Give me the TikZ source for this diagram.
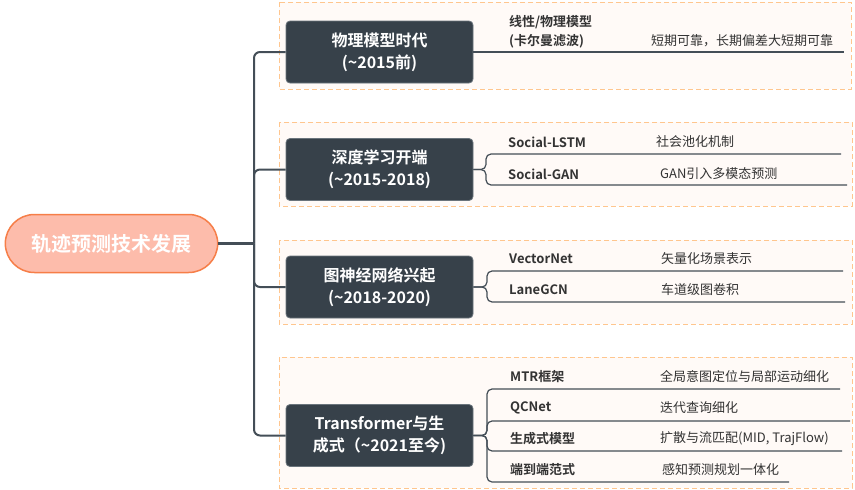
\documentclass[tikz,border=0pt]{standalone}
\usepackage{fontspec}
\setmainfont{Noto Sans CJK SC}[BoldFont={Noto Sans CJK SC Bold}]
\usetikzlibrary{shapes.misc}
\definecolor{darkbox}{HTML}{37414A}
\definecolor{darkedge}{HTML}{6A747C}
\definecolor{linec}{HTML}{444E57}
\definecolor{rootfill}{HTML}{FDBCAB}
\definecolor{rootdraw}{HTML}{F67E48}
\definecolor{dashc}{HTML}{FFC68E}
\definecolor{dashfill}{HTML}{FFFAF7}
\definecolor{txt}{HTML}{333333}
\tikzset{
  rootnode/.style={rounded rectangle, fill=rootfill, draw=rootdraw, line width=1.5pt,
    minimum width=219pt, minimum height=58pt, text=white,
    font=\bfseries\fontsize{20}{24}\selectfont},
  era/.style={rectangle, rounded corners=4pt, fill=darkbox, draw=darkedge, line width=0.8pt,
    minimum width=187pt, minimum height=62pt, text=white, align=center,
    font=\bfseries\fontsize{16}{22}\selectfont},
  framebox/.style={draw=dashc, fill=dashfill, dashed, dash pattern=on 5pt off 3pt, line width=1pt},
  trunk/.style={draw=linec, line width=2pt, rounded corners=6pt},
  childline/.style={draw=linec, line width=1.2pt, rounded corners=5pt},
  lbl/.style={anchor=west, inner sep=0pt, text=txt, align=left,
    font=\bfseries\fontsize{13}{19}\selectfont},
  desc/.style={anchor=west, inner sep=0pt, text=txt, font=\fontsize{13}{16}\selectfont},
}
\begin{document}
\begin{tikzpicture}[x=1pt,y=-1pt]
\useasboundingbox (0,0) rectangle (855,490);
% frames
\path[framebox] (279,2) rectangle (851,89);
\path[framebox] (279,122) rectangle (852,206);
\path[framebox] (279,240) rectangle (852,324);
\path[framebox] (279,357) rectangle (852,488);

% root
\node[rootnode] (root) at (111.5,243.5) {轨迹预测技术发展};

% era boxes
\node[era] (b1) at (379.5,52) {物理模型时代\\(\textasciitilde2015前)};
\node[era] (b2) at (379.5,169.5) {深度学习开端\\(\textasciitilde2015-2018)};
\node[era] (b3) at (379.5,287) {图神经网络兴起\\(\textasciitilde2018-2020)};
\node[era] (b4) at (379.5,435.5) {Transformer与生\\成式（\textasciitilde2021至今)};

\coordinate (tr) at (254,243.5);
\draw[draw=linec, line width=2.6pt] (root.east) -- (tr);
\foreach \b in {b1,b2,b3,b4} {
  \draw[trunk] (tr) |- (\b.west);
}

% box 1 child
\coordinate (e11) at (844,52);
\draw[childline] (b1.east) -- (e11);
\node[lbl] (l11) at (509,31.5) {线性/物理模型\\(卡尔曼滤波)};
\node[desc] (d11) at (651,41) {短期可靠，长期偏差大短期可靠};

% box 2 children
\coordinate (e21) at (841,154);
\coordinate (e22) at (847,185);
\draw[childline] (b2.east) -- (486,169.5) |- (e21);
\draw[childline] (b2.east) -- (486,169.5) |- (e22);
\node[lbl] (l21) at (508,142) {Social-LSTM};
\node[lbl] (l22) at (508,174) {Social-GAN};
\node[desc] (d21) at (656,142) {社会池化机制};
\node[desc] (d22) at (660,174) {GAN引入多模态预测};

% box 3 children
\coordinate (e31) at (843,271);
\coordinate (e32) at (845,302);
\draw[childline] (b3.east) -- (487,287) |- (e31);
\draw[childline] (b3.east) -- (487,287) |- (e32);
\node[lbl] (l31) at (509,259) {VectorNet};
\node[lbl] (l32) at (509,290) {LaneGCN};
\node[desc] (d31) at (661,259) {矢量化场景表示};
\node[desc] (d32) at (661,290) {车道级图卷积};

% box 4 children
\coordinate (e41) at (840,389);
\coordinate (e42) at (850,421);
\coordinate (e43) at (842,451);
\coordinate (e44) at (789,482);
\foreach \e in {e41,e42,e43,e44} {
  \draw[childline] (b4.east) -- (487,435.5) |- (\e);
}
\node[lbl] (l41) at (510,377) {MTR框架};
\node[lbl] (l42) at (510,408) {QCNet};
\node[lbl] (l43) at (510,439) {生成式模型};
\node[lbl] (l44) at (510,470) {端到端范式};
\node[desc] (d41) at (660,377) {全局意图定位与局部运动细化};
\node[desc] (d42) at (660,408) {迭代查询细化};
\node[desc] (d43) at (660,439) {扩散与流匹配(MID, TrajFlow)};
\node[desc] (d44) at (662,470) {感知预测规划一体化};
\end{tikzpicture}
\end{document}
